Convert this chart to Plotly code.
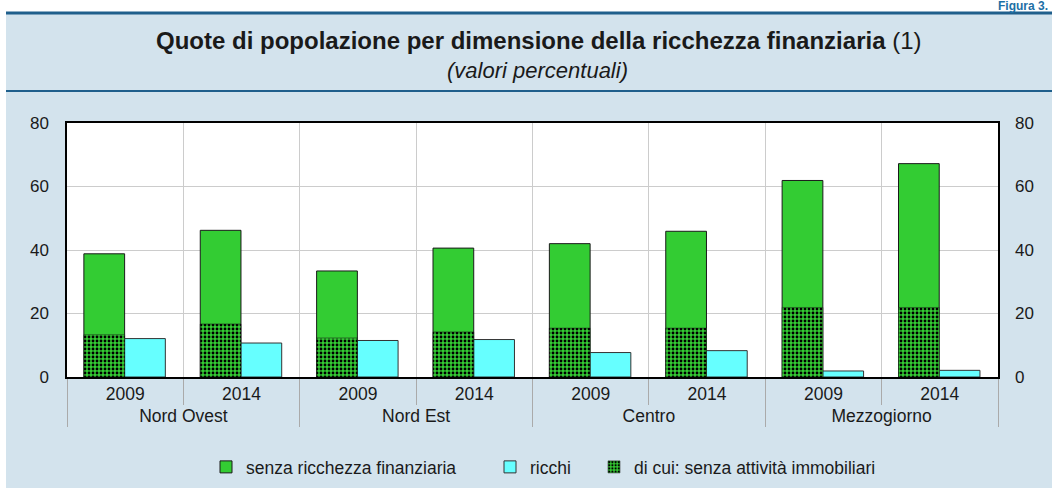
import plotly.graph_objects as go

# ---- data ----
regions = ["Nord Ovest", "Nord Est", "Centro", "Mezzogiorno"]
years = ["2009", "2014"]
senza_ricchezza = [38.8, 46.2, 33.4, 40.6, 42.0, 45.9, 61.9, 67.2]
ricchi = [12.1, 10.7, 11.5, 11.8, 7.7, 8.3, 1.9, 2.1]
di_cui_senza_immobiliari = [13.3, 16.7, 12.3, 14.2, 15.4, 15.4, 21.9, 21.9]
y_ticks = [0, 20, 40, 60, 80]

W, H = 1052, 488
ML, MR, MT, MB = 67, 54, 123, 111
PW, PH = W - ML - MR, H - MT - MB


def px(p):
    return (p - ML) / PW


def py(p):
    return (H - MB - p) / PH


x_multi = [[r for r in regions for _ in years], [y for _ in regions for y in years]]

FONT = "Liberation Sans, Arial, Helvetica, sans-serif"
BG = "#d3e3ed"
DARKBLUE = "#1f5f8c"
TXT = "#1a1a1a"

fig = go.Figure()
fig.add_trace(go.Bar(
    x=x_multi, y=senza_ricchezza, name="senza ricchezza finanziaria",
    offset=-0.355, width=0.35,
    marker=dict(color="#33cc33", line=dict(color="#1a1a1a", width=1)),
    legend="legend",
))
fig.add_trace(go.Bar(
    x=x_multi, y=ricchi, name="ricchi",
    offset=-0.005, width=0.35,
    marker=dict(color="#66ffff", line=dict(color="#333333", width=1)),
    legend="legend2",
))
fig.add_trace(go.Bar(
    x=x_multi, y=di_cui_senza_immobiliari, name="di cui: senza attività immobiliari",
    offset=-0.355, width=0.35,
    marker=dict(color="#33cc33", line=dict(color="#1a1a1a", width=0.5),
                pattern=dict(shape=".", fgcolor="#000000", bgcolor="#33cc33",
                             size=4, solidity=0.4, fillmode="replace")),
    legend="legend3",
))
# invisible trace to carry the right-hand axis
fig.add_trace(go.Scatter(x=x_multi, y=senza_ricchezza, yaxis="y2", mode="none",
                         showlegend=False, hoverinfo="skip"))

leg_common = dict(orientation="h", yanchor="middle", xanchor="left",
                  bgcolor="rgba(0,0,0,0)", borderwidth=0,
                  font=dict(family=FONT, size=17.5, color=TXT))

fig.update_layout(
    width=W, height=H,
    margin=dict(l=ML, r=MR, t=MT, b=MB, autoexpand=False),
    paper_bgcolor=BG, plot_bgcolor="white",
    barmode="overlay",
    font=dict(family=FONT, size=17, color=TXT),
    legend=dict(x=px(206), y=py(467), **leg_common),
    legend2=dict(x=px(490), y=py(467), **leg_common),
    legend3=dict(x=px(594), y=py(467), **leg_common),
    xaxis=dict(
        type="multicategory",
        showline=True, linecolor="black", linewidth=1.5, mirror=True,
        showgrid=True, gridcolor="#cccccc", gridwidth=1,
        tickson="boundaries", ticks="outside", ticklen=26, tickcolor="#aaaaaa",
        showdividers=True, dividercolor="#aaaaaa", dividerwidth=1,
        tickfont=dict(size=17.5, color=TXT),
    ),
    yaxis=dict(
        range=[0, 80], tickvals=y_ticks, ticks="",
        showline=True, linecolor="black", linewidth=1.5, mirror=True,
        showgrid=True, gridcolor="#cccccc", gridwidth=1, zeroline=False,
        ticklabelstandoff=13, tickfont=dict(size=17, color=TXT),
    ),
    yaxis2=dict(
        range=[0, 80], tickvals=y_ticks, ticks="", overlaying="y", side="right",
        showgrid=False, zeroline=False, showline=False,
        ticklabelstandoff=16, tickfont=dict(size=17, color=TXT),
    ),
    shapes=[
        dict(type="rect", xref="paper", yref="paper", x0=px(0), x1=px(W), y0=py(0), y1=py(12),
             fillcolor="white", line=dict(width=0), layer="below"),
        dict(type="rect", xref="paper", yref="paper", x0=px(0), x1=px(6), y0=py(0), y1=py(H),
             fillcolor="white", line=dict(width=0), layer="below"),
        dict(type="line", xref="paper", yref="paper", x0=px(6), x1=px(W), y0=py(13), y1=py(13),
             line=dict(color=DARKBLUE, width=3)),
        dict(type="line", xref="paper", yref="paper", x0=px(6), x1=px(W), y0=py(91), y1=py(91),
             line=dict(color=DARKBLUE, width=2)),
    ],
    annotations=[
        dict(text="<b>Figura 3.</b>", xref="paper", yref="paper", x=px(1050), y=py(6),
             xanchor="right", yanchor="middle", showarrow=False,
             font=dict(family=FONT, size=12, color="#1d6fa5")),
        dict(text="<b>Quote di popolazione per dimensione della ricchezza finanziaria</b> (1)",
             xref="paper", yref="paper", x=px(538), y=py(41), xanchor="center", yanchor="middle",
             showarrow=False, font=dict(family=FONT, size=24, color=TXT)),
        dict(text="<i>(valori percentuali)</i>",
             xref="paper", yref="paper", x=px(537), y=py(71), xanchor="center", yanchor="middle",
             showarrow=False, font=dict(family=FONT, size=22, color=TXT)),
    ],
)

fig.write_html("out.html", config={"displayModeBar": False},
               post_script="document.body.style.margin='0px';document.body.style.padding='0px';")
